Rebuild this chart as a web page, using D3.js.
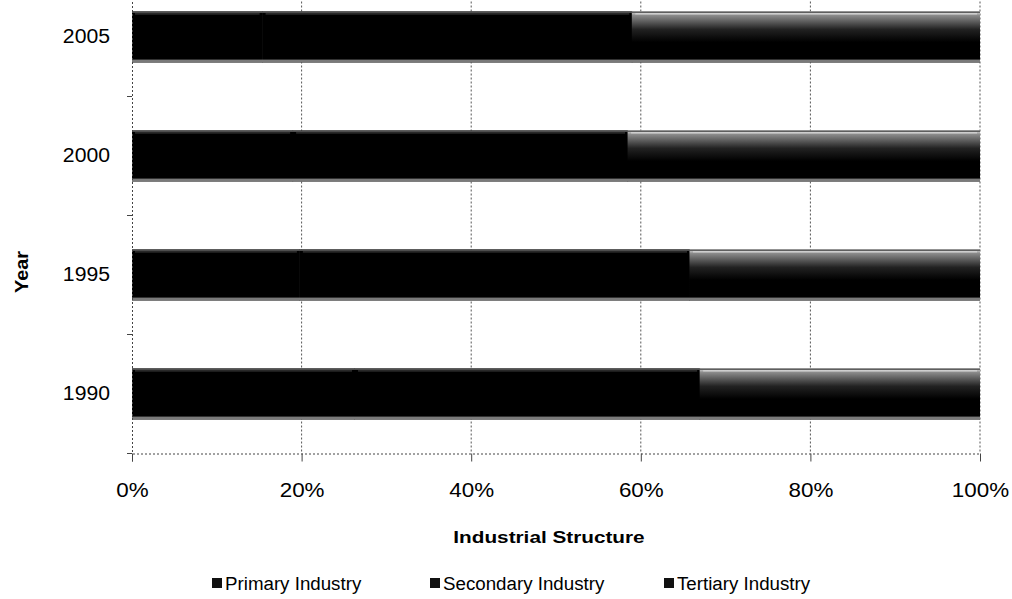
<!DOCTYPE html>
<html lang="en">
<head>
<meta charset="UTF-8">
<title>Industrial Structure</title>
<style>
    body { margin: 0; background: #fff; }
    text { font-family: "Liberation Sans", Arial, sans-serif; fill: #000; }
</style>
</head>
<body>
<script src="https://d3js.org/d3.v7.min.js"></script>
<script>
    // years from top to bottom as drawn
    var years = ['2005', '2000', '1995', '1990'];
    var series = ['Primary Industry', 'Secondary Industry', 'Tertiary Industry'];
    // shares in percent
    var primary   = [15.4, 19.0, 19.8, 26.3];
    var secondary = [43.6, 39.5, 46.0, 40.7];
    var tertiary  = [41.0, 41.5, 34.2, 33.0];
    var xTicks = [0, 0.2, 0.4, 0.6, 0.8, 1];

    var width = 1012, height = 599;
    var plotLeft = 132, plotRight = 980, plotBottom = 453.5;
    var step = 119;

    var svg = d3.select('body').append('svg')
        .attr('width', width)
        .attr('height', height);

    var defs = svg.append('defs');
    var grad = defs.append('linearGradient')
        .attr('id', 'tert')
        .attr('x1', 0).attr('y1', 0).attr('x2', 0).attr('y2', 1);
    grad.append('stop').attr('offset', '0%').attr('stop-color', '#e0e0e0');
    grad.append('stop').attr('offset', '8%').attr('stop-color', '#8a8a8a');
    grad.append('stop').attr('offset', '35%').attr('stop-color', '#222');
    grad.append('stop').attr('offset', '60%').attr('stop-color', '#000');
    grad.append('stop').attr('offset', '100%').attr('stop-color', '#000');

    var x = d3.scaleLinear().domain([0, 1]).range([plotLeft, plotRight]);
    var y = d3.scaleBand()
        .domain(years)
        .range([plotBottom - step * years.length, plotBottom])
        .paddingInner(0.57)
        .paddingOuter(0.285);

    // the scanned text is a little wider than the installed fonts
    function stretch(f) {
        return function(sel) {
            sel.each(function() {
                var len = this.getComputedTextLength();
                d3.select(this).attr('textLength', len * f).attr('lengthAdjust', 'spacingAndGlyphs');
            });
        };
    }

    // gridlines
    svg.append('g').selectAll('line')
        .data(xTicks.slice(1))
        .enter().append('line')
        .attr('x1', function(d) { return x(d); })
        .attr('x2', function(d) { return x(d); })
        .attr('y1', plotBottom - step * years.length)
        .attr('y2', plotBottom)
        .attr('stroke', '#555')
        .attr('stroke-width', 1)
        .attr('stroke-dasharray', '2,2');

    // stacked data
    var rows = years.map(function(yr, i) {
        return { year: yr, vals: [primary[i], secondary[i], tertiary[i]] };
    });
    var stack = d3.stack().keys([0, 1, 2])
        .value(function(d, k) { return d.vals[k] / d3.sum(d.vals); });
    var layers = stack(rows);

    var bars = svg.append('g');
    layers.forEach(function(layer, k) {
        var g = bars.append('g');
        g.selectAll('rect.seg')
            .data(layer)
            .enter().append('rect')
            .attr('class', 'seg')
            .attr('x', function(d) { return x(d[0]) - (k > 0 ? 0.5 : 0); })
            .attr('width', function(d) { return x(d[1]) - x(d[0]) + (k > 0 ? 0.5 : 0); })
            .attr('y', function(d) { return y(d.data.year); })
            .attr('height', y.bandwidth())
            .attr('fill', k === 2 ? 'url(#tert)' : '#000');
        // light line near the top edge
        g.selectAll('rect.hi')
            .data(layer)
            .enter().append('rect')
            .attr('class', 'hi')
            .attr('x', function(d) { return x(d[0]) + 3; })
            .attr('width', function(d) { return Math.max(0, x(d[1]) - x(d[0]) - 6); })
            .attr('y', function(d) { return y(d.data.year) + 2; })
            .attr('height', 1)
            .attr('fill', k === 2 ? '#fff' : '#777')
            .attr('opacity', 0.6);
    });
    // grey fringe at top and bottom of each bar
    bars.selectAll('rect.edgeTop')
        .data(years)
        .enter().append('rect')
        .attr('x', plotLeft).attr('width', plotRight - plotLeft)
        .attr('y', function(d) { return y(d); })
        .attr('height', 1.5)
        .attr('fill', '#555');
    bars.selectAll('rect.edgeBot')
        .data(years)
        .enter().append('rect')
        .attr('x', plotLeft).attr('width', plotRight - plotLeft)
        .attr('y', function(d) { return y(d) + y.bandwidth() - 3; })
        .attr('height', 3)
        .attr('fill', '#999')
        .attr('opacity', 0.8);

    // x axis
    var xAxis = d3.axisBottom(x)
        .tickValues(xTicks)
        .tickFormat(d3.format('.0%'))
        .tickSize(8)
        .tickPadding(21);
    var gx = svg.append('g')
        .attr('transform', 'translate(0,' + plotBottom + ')')
        .call(xAxis);
    gx.select('.domain').attr('stroke', '#444').attr('stroke-dasharray', '2,2');
    gx.selectAll('.tick line').attr('stroke', '#444');
    gx.selectAll('.tick text').attr('font-size', 20).attr('font-family', null).call(stretch(1.12));

    // y axis with ticks between the bands
    var gy = svg.append('g')
        .attr('transform', 'translate(' + plotLeft + ',0)')
        .call(d3.axisLeft(y).tickSize(0).tickPadding(22));
    gy.select('.domain').attr('stroke', '#444').attr('stroke-dasharray', '2,2');
    gy.selectAll('.tick text').attr('font-size', 20).attr('font-family', null).call(stretch(1.06));
    gy.selectAll('line.sep')
        .data(d3.range(years.length))
        .enter().append('line')
        .attr('class', 'sep')
        .attr('x1', -5).attr('x2', 0)
        .attr('y1', function(i) { return plotBottom - step * i; })
        .attr('y2', function(i) { return plotBottom - step * i; })
        .attr('stroke', '#444');

    // axis titles
    svg.append('text')
        .attr('x', 549).attr('y', 543)
        .attr('text-anchor', 'middle')
        .attr('font-size', 17).attr('font-weight', 'bold')
        .text('Industrial Structure')
        .call(stretch(1.22));
    svg.append('text')
        .attr('transform', 'translate(28,272) rotate(-90)')
        .attr('text-anchor', 'middle')
        .attr('font-size', 18).attr('font-weight', 'bold')
        .text('Year')
        .call(stretch(1.1));

    // legend
    var legendX = [212, 430, 664];
    var lg = svg.append('g').selectAll('g')
        .data(series)
        .enter().append('g')
        .attr('transform', function(d, i) { return 'translate(' + legendX[i] + ',583)'; });
    lg.append('rect')
        .attr('x', 0).attr('y', -5)
        .attr('width', 10).attr('height', 10)
        .attr('fill', '#111');
    lg.append('text')
        .attr('x', 13).attr('y', 7)
        .attr('font-size', 18)
        .text(function(d) { return d; })
        .call(stretch(1.04));
</script>
</body>
</html>
